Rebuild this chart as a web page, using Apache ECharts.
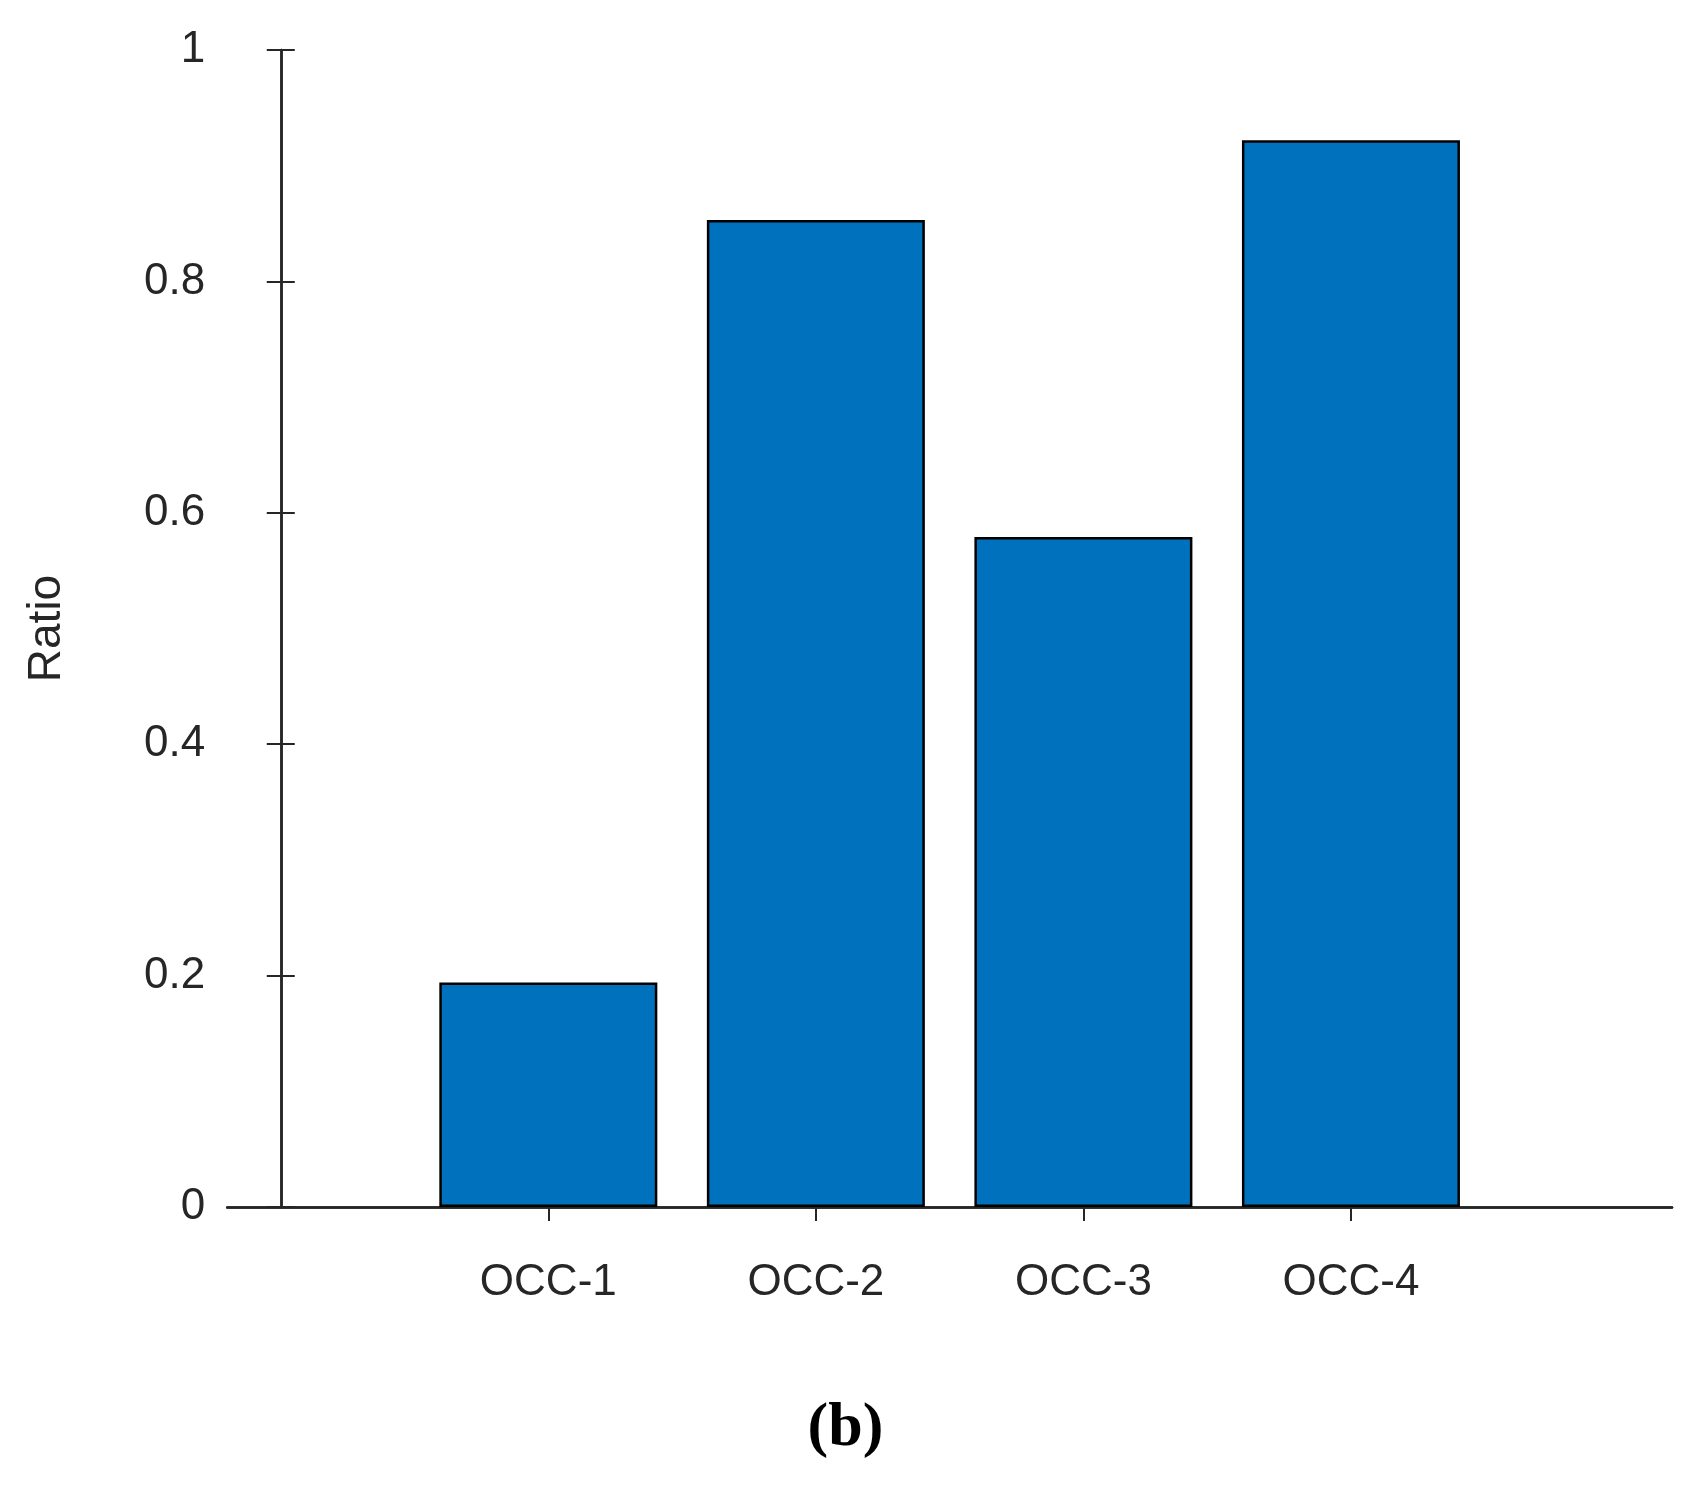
<!DOCTYPE html><html><head><script src="https://cdn.jsdelivr.net/npm/echarts@6/dist/echarts.min.js"></script>
<style>html,body{margin:0;background:#fff}#c{width:1691px;height:1492px}</style></head><body><div id="c"></div><script>
const categories=['OCC-1','OCC-2','OCC-3','OCC-4'];
const positions=[1,2,3,4];
const values=[0.194,0.853,0.579,0.922];
const yTicks=[0,0.2,0.4,0.6,0.8,1];
const font='Liberation Sans';
const c=echarts.init(document.getElementById('c'));
const ax={type:'value',min:-0.2,max:5.2,axisLine:{show:true,lineStyle:{color:'#262626',width:2.5}},splitLine:{show:false},
 axisTick:{inside:true,length:14,customValues:positions,lineStyle:{color:'#262626',width:2}}};
c.setOption({
 grid:{left:206,right:19,top:50,bottom:285},
 xAxis:[Object.assign({},ax,{position:'bottom',axisLabel:{customValues:positions,formatter:v=>categories[positions.indexOf(Math.round(v))]||'',fontFamily:font,fontSize:44,color:'#262626',margin:38}}),
        Object.assign({},ax,{position:'top',axisLabel:{show:false}})],
 yAxis:[{type:'value',min:0,max:1,interval:0.2,position:'left',axisLine:{show:true,lineStyle:{color:'#262626',width:2.5}},splitLine:{show:false},
   axisTick:{inside:true,length:14,lineStyle:{color:'#262626',width:2}},
   axisLabel:{formatter:v=>String(+v.toFixed(1)),fontFamily:font,fontSize:44,color:'#262626',margin:22},
   name:'Ratio',nameLocation:'middle',nameGap:140,nameTextStyle:{fontFamily:font,fontSize:46,color:'#262626'}},
  {type:'value',min:0,max:1,interval:0.2,position:'right',axisLine:{show:true,lineStyle:{color:'#262626',width:2.5}},splitLine:{show:false},
   axisTick:{inside:true,length:14,lineStyle:{color:'#262626',width:2}},axisLabel:{show:false}}],
 title:{text:'(b)',left:'center',top:1375,textStyle:{fontFamily:'Liberation Serif',fontWeight:'bold',fontSize:62,color:'#000'}},
 series:[{type:'bar',barWidth:218,data:positions.map((p,i)=>[p,values[i]]),itemStyle:{color:'#0072BD',borderColor:'#000',borderWidth:2.5}}]
});
</script></body></html>
